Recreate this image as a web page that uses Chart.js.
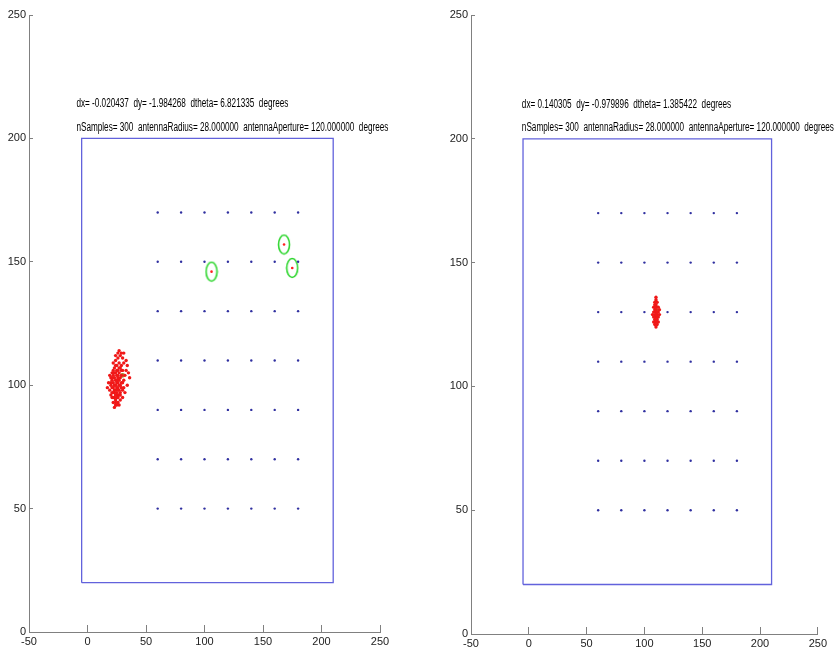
<!DOCTYPE html>
<html>
<head>
<meta charset="utf-8">
<script src="https://cdn.jsdelivr.net/npm/chart.js@4/dist/chart.umd.min.js"></script>
<style>
  html,body{margin:0;padding:0;background:#fff;width:837px;height:661px;overflow:hidden;}
  canvas{position:absolute;top:0;}
</style>
</head>
<body>
<canvas id="c1" width="418" height="661" style="left:0px"></canvas>
<canvas id="c2" width="395" height="661" style="left:442px"></canvas>
<script>
// ---- data ----
const xTicks = [-50, 0, 50, 100, 150, 200, 250];
const yTicks = [0, 50, 100, 150, 200, 250];
const rectX = [-5, 210, 210, -5, -5];
const rectY = [20, 20, 200, 200, 20];
const gridX = [60, 80, 100, 120, 140, 160, 180];
const gridY = [50, 70, 90, 110, 130, 150, 170];

const cloudLeft = [
  [24,100],[25,101],[26,99],[23,98],[27,102],[25,97],[22,101],[26,103],[24,96],[28,100],
  [23,103],[25,104],[27,98],[21,99],[26,96],[24,102],[22,97],[28,103],[25,95],[27,105],
  [23,100],[26,101],[24,98],[29,101],[22,104],[25,99],[27,100],[24,94],[26,106],[23,95],
  [28,97],[21,102],[25,102],[26,98],[24,105],[27,96],[22,99],[29,104],[23,97],[26,104],
  [20,100],[19,98],[21,95],[22,93],[24,92],[26,93],[28,94],[30,98],[31,102],[30,106],
  [29,108],[28,107],[27,109],[25,108],[23,107],[21,105],[20,103],[18,101],[17,99],[32,104],
  [33,106],[31,109],[30,111],[28,112],[26,111],[24,110],[29,113],[31,113],[27,114],[33,110],
  [35,105],[36,103],[34,100],[32,97],[23,91],[25,92],[27,92],[20,96],[19,104],[22,109],
  [24,112],[26,113],[34,108],[30,95],[31,99],[21,97],[22,95],[24,93],[26,95],[28,96],
  [29,99],[30,101],[29,106],[27,107],[25,106],[23,105],[21,103],[20,101],[22,106],[24,108]
];
const estLeft = [[30,104]];
const landmarksLeft = [[106,146],[168,157],[175,147.5]];

const cloudRight = [
  [110,130],[109,131],[111,129],[110,128],[109,127],[111,132],[110,133],[108,130],[112,130],[110,126],
  [109,129],[111,127],[110,131],[108,128],[112,128],[109,133],[111,134],[110,135],[109,125],[111,125],
  [112,132],[108,132],[110,124],[113,129],[107,129],[111,130],[109,132],[110,129],[112,126],[108,126],
  [113,131],[110,136],[109,134]
];
const estRight = [[110.5,130.5]];
const landmarksRight = [];

const infoLeft = ["dx= -0.020437  dy= -1.984268  dtheta= 6.821335  degrees",
                  "nSamples= 300  antennaRadius= 28.000000  antennaAperture= 120.000000  degrees"];
const infoRight = ["dx= 0.140305  dy= -0.979896  dtheta= 1.385422  degrees",
                   "nSamples= 300  antennaRadius= 28.000000  antennaAperture= 120.000000  degrees"];

// ---- helpers ----
const FONT = '"Liberation Sans Narrow", "Arial Narrow", "Liberation Sans", Arial, sans-serif';
const toPts = arr => arr.map(p => ({x: p[0], y: p[1]}));
const gridPts = [];
gridY.forEach(y => gridX.forEach(x => gridPts.push({x, y})));
const rectPts = rectX.map((x, i) => ({x, y: rectY[i]}));

// ellipse marker image for landmark circles
const ell = document.createElement('canvas');
ell.width = 14; ell.height = 22;
(function(){
  const g = ell.getContext('2d');
  g.strokeStyle = '#2fd62f'; g.lineWidth = 1.6;
  g.beginPath(); g.ellipse(7, 11, 5.5, 9.5, 0, 0, Math.PI*2); g.stroke();
})();

const textPlugin = {
  id: 'infoText',
  afterDatasetsDraw(chart, args, opts) {
    const {ctx, scales} = chart;
    ctx.save();
    ctx.font = '12.5px ' + FONT;
    ctx.fillStyle = '#000';
    ctx.textBaseline = 'middle';
    ctx.textAlign = 'left';
    const wMax = Math.max(...opts.lines.map(t => ctx.measureText(t).width));
    const sx = opts.width / wMax;
    opts.lines.forEach((t, i) => {
      const px = scales.x.getPixelForValue(opts.x);
      const py = scales.y.getPixelForValue(opts.ys[i]);
      ctx.save();
      ctx.translate(px, py);
      ctx.scale(sx, 1);
      ctx.fillText(t, 0, 0);
      ctx.restore();
    });
    ctx.restore();
  }
};

function makeChart(id, cloud, est, marks, info, textX, padRight, xAxisH) {
  new Chart(document.getElementById(id), {
    type: 'scatter',
    data: {
      datasets: [
        {type: 'line', data: rectPts, borderColor: '#6262dc', borderWidth: 1.3, pointRadius: 0, fill: false, tension: 0},
        {data: gridPts, pointRadius: 1.2, backgroundColor: '#3030a0', borderWidth: 0},
        {data: toPts(cloud), pointRadius: 1.7, backgroundColor: '#f01818', borderWidth: 0},
        {data: toPts(est), pointRadius: 2.4, backgroundColor: '#9a8a2a', borderWidth: 0},
        {data: toPts(marks), pointRadius: 1.3, backgroundColor: '#ff2020', borderWidth: 0},
        {data: toPts(marks), pointStyle: ell, pointRadius: 9}
      ]
    },
    options: {
      responsive: false,
      animation: false,
      events: [],
      layout: {padding: {top: 15, right: padRight, left: 0, bottom: 0}},
      plugins: {
        legend: {display: false}, tooltip: {enabled: false},
        infoText: {lines: info, x: textX, ys: [214, 204.6], width: 312}
      },
      scales: {
        x: {
          type: 'linear', min: xTicks[0], max: xTicks[xTicks.length-1],
          afterBuildTicks: s => { s.ticks = xTicks.map(v => ({value: v})); },
          afterFit: s => { s.height = xAxisH; },
          border: {color: '#808080', width: 1},
          grid: {drawOnChartArea: false, tickLength: -7, color: '#808080'},
          ticks: {padding: 10, color: '#222', font: {family: FONT, size: 11}, maxRotation: 0}
        },
        y: {
          type: 'linear', min: yTicks[0], max: yTicks[yTicks.length-1],
          afterBuildTicks: s => { s.ticks = yTicks.map(v => ({value: v})); },
          afterFit: s => { s.width = 29; },
          border: {color: '#808080', width: 1},
          grid: {drawOnChartArea: false, tickLength: -4, color: '#808080'},
          ticks: {padding: 7, color: '#222', font: {family: FONT, size: 11}}
        }
      }
    },
    plugins: [textPlugin]
  });
}

makeChart('c1', cloudLeft, estLeft, landmarksLeft, infoLeft, -9.5, 38, 29);
makeChart('c2', cloudRight, estRight, landmarksRight, infoRight, -6, 14, 27);
</script>
</body>
</html>
